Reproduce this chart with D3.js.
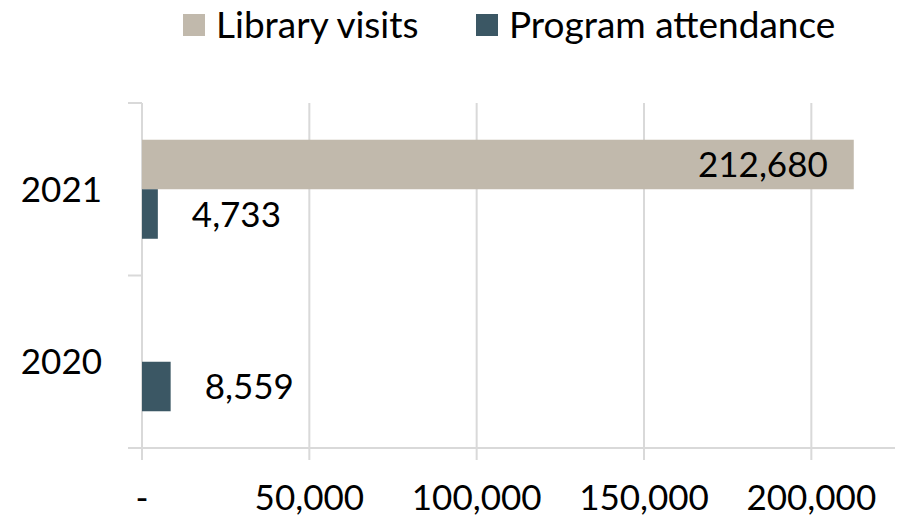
<!DOCTYPE html>
<html>
<head>
<meta charset="utf-8">
<script src="https://cdn.jsdelivr.net/npm/d3@7"></script>
<style>
  html, body { margin: 0; padding: 0; background: #fff; }
  svg { display: block; }
  text { font-family: Lato, "Open Sans", sans-serif; fill: #000; }
</style>
</head>
<body>
<svg id="chart" width="900" height="518"></svg>
<script>
const categories = ["2021", "2020"];
const seriesNames = ["Library visits", "Program attendance"];
const libraryVisits = [212680, null];
const programAttendance = [4733, 8559];
const xTickValues = [0, 50000, 100000, 150000, 200000];
const xTickLabels = ["-", "50,000", "100,000", "150,000", "200,000"];
const colors = ["#c1b9ac", "#3b5764"];

const svg = d3.select("#chart");
const plotLeft = 142, plotRight = 895, plotTop = 103, plotBottom = 448;

const x = d3.scaleLinear().domain([0, 225000]).range([plotLeft, plotRight]);
const y = d3.scaleBand().domain(categories).range([plotTop, plotBottom]).padding(0);
const ys = d3.scaleBand().domain(seriesNames).range([0, y.bandwidth()]).paddingInner(0).paddingOuter(0.742);

const grid = "#d9d9d9";

// vertical gridlines (extend below baseline as tick marks)
svg.append("g").selectAll("line").data(xTickValues.slice(1)).join("line")
  .attr("x1", d => x(d)).attr("x2", d => x(d))
  .attr("y1", plotTop).attr("y2", plotBottom + 12)
  .attr("stroke", grid).attr("stroke-width", 2);

// baseline
svg.append("line").attr("x1", plotLeft - 14).attr("x2", plotRight)
  .attr("y1", plotBottom).attr("y2", plotBottom).attr("stroke", grid).attr("stroke-width", 2);

// vertical axis line
svg.append("line").attr("x1", plotLeft).attr("x2", plotLeft)
  .attr("y1", plotTop).attr("y2", plotBottom + 12).attr("stroke", grid).attr("stroke-width", 2);

// left category ticks
const catBounds = [plotTop, plotTop + y.bandwidth()];
svg.append("g").selectAll("line").data(catBounds).join("line")
  .attr("x1", plotLeft - 14).attr("x2", plotLeft)
  .attr("y1", d => d).attr("y2", d => d)
  .attr("stroke", grid).attr("stroke-width", 2);

// data table
const rows = categories.map((c, i) => ({
  cat: c,
  vals: [
    { s: seriesNames[0], v: libraryVisits[i], c: colors[0] },
    { s: seriesNames[1], v: programAttendance[i], c: colors[1] }
  ]
}));

const fmt = d3.format(",");

const groups = svg.append("g").selectAll("g").data(rows).join("g")
  .attr("transform", d => `translate(0,${y(d.cat)})`);

groups.selectAll("rect").data(d => d.vals.filter(v => v.v != null)).join("rect")
  .attr("x", x(0))
  .attr("y", d => ys(d.s))
  .attr("width", d => x(d.v) - x(0))
  .attr("height", ys.bandwidth())
  .attr("fill", d => d.c);

groups.selectAll("text.lbl").data(d => d.vals.filter(v => v.v != null)).join("text")
  .attr("class", "lbl")
  .attr("x", d => d.s === seriesNames[0] ? x(d.v) - 26 : x(d.v) + 34)
  .attr("y", d => ys(d.s) + ys.bandwidth() / 2)
  .attr("dy", "0.36em")
  .attr("text-anchor", d => d.s === seriesNames[0] ? "end" : "start")
  .attr("font-size", 35)
  .text(d => fmt(d.v));

// category labels
svg.append("g").selectAll("text").data(categories).join("text")
  .attr("x", 102)
  .attr("y", d => y(d) + y.bandwidth() / 2)
  .attr("dy", "0.36em")
  .attr("text-anchor", "end")
  .attr("font-size", 35)
  .text(d => d);

// x tick labels
svg.append("g").selectAll("text").data(xTickValues).join("text")
  .attr("x", d => x(d))
  .attr("y", 497)
  .attr("dy", "0.36em")
  .attr("text-anchor", "middle")
  .attr("font-size", 35)
  .text((d, i) => xTickLabels[i]);

// legend
const legendX = [183, 476];
const leg = svg.append("g").selectAll("g").data(seriesNames).join("g")
  .attr("transform", (d, i) => `translate(${legendX[i]},14)`);
leg.append("rect").attr("width", 22).attr("height", 22).attr("fill", (d, i) => colors[i]);
leg.append("text").attr("x", 33).attr("y", 11).attr("dy", "0.36em")
  .attr("font-size", 37).text(d => d);
</script>
</body>
</html>
